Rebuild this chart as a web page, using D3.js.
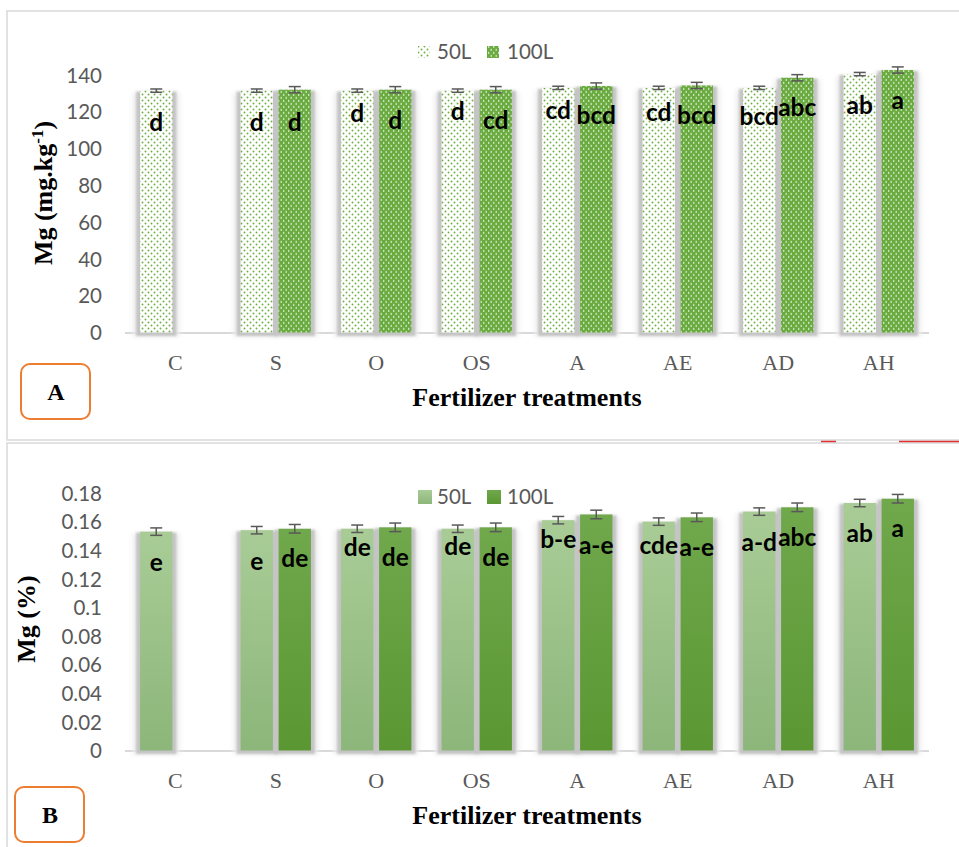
<!DOCTYPE html>
<html>
<head>
<meta charset="utf-8">
<script src="https://cdn.jsdelivr.net/npm/d3@7/dist/d3.min.js"></script>
<style>
  html, body { margin: 0; padding: 0; background: #ffffff; }
  svg { display: block; }
</style>
</head>
<body>
<svg id="chart" width="959" height="847"></svg>
<script>
// ---------------- DATA ----------------
const categories = ["C", "S", "O", "OS", "A", "AE", "AD", "AH"];
const seriesNames = ["50L", "100L"];

// Panel A: Mg (mg.kg-1)
const mgKg50 = [131.5, 131.5, 131.5, 131.5, 133.0, 133.0, 133.0, 140.5];
const mgKg100 = [null, 132.0, 132.0, 132.0, 134.0, 134.3, 138.5, 142.7];
const mgKgErr50 = [0.9, 0.9, 0.9, 0.9, 0.9, 0.9, 0.9, 0.9];
const mgKgErr100 = [0, 1.7, 1.7, 1.7, 1.7, 1.7, 1.7, 1.7];
const mgKgLetters50 = ["d", "d", "d", "d", "cd", "cd", "bcd", "ab"];
const mgKgLetters100 = [null, "d", "d", "cd", "bcd", "bcd", "abc", "a"];
const mgKgTicks = [0, 20, 40, 60, 80, 100, 120, 140];

// Panel B: Mg (%)
const mgPct50 = [0.153, 0.154, 0.155, 0.155, 0.161, 0.160, 0.167, 0.173];
const mgPct100 = [null, 0.155, 0.156, 0.156, 0.165, 0.163, 0.170, 0.176];
const mgPctErr50 = [0.0026, 0.0026, 0.0026, 0.0026, 0.0026, 0.0026, 0.0026, 0.0026];
const mgPctErr100 = [0, 0.003, 0.003, 0.003, 0.003, 0.003, 0.003, 0.003];
const mgPctLetters50 = ["e", "e", "de", "de", "b-e", "cde", "a-d", "ab"];
const mgPctLetters100 = [null, "de", "de", "de", "a-e", "a-e", "abc", "a"];
const mgPctTicks = [0, 0.02, 0.04, 0.06, 0.08, 0.1, 0.12, 0.14, 0.16, 0.18];

// ---------------- LAYOUT / STYLE (not data) ----------------
const labelDropA50 = [32, 32, 23, 21, 23, 25, 29, 31];
const labelDropA100 = [0, 33, 31, 31, 29, 30, 30, 30];
const labelDropB50 = [31, 31, 19, 18, 19, 24, 31, 30];
const labelDropB100 = [0, 30, 30, 30, 31, 30, 30, 30];

const svg = d3.select("#chart");
const defs = svg.append("defs");

// Patterns for panel A
const p50 = defs.append("pattern").attr("id", "pat50").attr("patternUnits", "userSpaceOnUse")
  .attr("width", 6).attr("height", 6);
p50.append("rect").attr("width", 6).attr("height", 6).attr("fill", "#ffffff");
p50.append("circle").attr("cx", 1.5).attr("cy", 1.5).attr("r", 0.95).attr("fill", "#6fb045");
p50.append("circle").attr("cx", 4.5).attr("cy", 4.5).attr("r", 0.95).attr("fill", "#6fb045");

const p100 = defs.append("pattern").attr("id", "pat100").attr("patternUnits", "userSpaceOnUse")
  .attr("width", 5).attr("height", 6);
p100.append("rect").attr("width", 5).attr("height", 6).attr("fill", "#6aab40");
p100.append("rect").attr("x", 0.6).attr("y", 0.8).attr("width", 1.2).attr("height", 2.2).attr("fill", "#ffffff").attr("opacity", 0.7);
p100.append("rect").attr("x", 3.1).attr("y", 3.8).attr("width", 1.2).attr("height", 2.2).attr("fill", "#ffffff").attr("opacity", 0.7);

// Gradients for panel B
function vgrad(id, top, bottom) {
  const g = defs.append("linearGradient").attr("id", id)
    .attr("x1", 0).attr("y1", 0).attr("x2", 0).attr("y2", 1);
  g.append("stop").attr("offset", "0%").attr("stop-color", top);
  g.append("stop").attr("offset", "100%").attr("stop-color", bottom);
}
vgrad("grad50", "#a9cc96", "#8cb67a");
vgrad("grad100", "#70a84c", "#5a9732");

const blur = defs.append("filter").attr("id", "blur").attr("x", "-50%").attr("y", "-10%")
  .attr("width", "200%").attr("height", "120%");
blur.append("feGaussianBlur").attr("stdDeviation", 1.3);
const blur2 = defs.append("filter").attr("id", "blur2").attr("x", "-50%").attr("y", "-10%")
  .attr("width", "200%").attr("height", "120%");
blur2.append("feGaussianBlur").attr("stdDeviation", 2.5);

// Panel frames
svg.append("rect").attr("x", 7).attr("y", 11).attr("width", 990).attr("height", 429)
  .attr("fill", "none").attr("stroke", "#d9d9d9").attr("stroke-width", 1.5);
svg.append("rect").attr("x", 7).attr("y", 443).attr("width", 990).attr("height", 430)
  .attr("fill", "none").attr("stroke", "#d9d9d9").attr("stroke-width", 1.5);
// small red marks between panels
svg.append("line").attr("x1", 821).attr("x2", 836).attr("y1", 441.5).attr("y2", 441.5)
  .attr("stroke", "#e03030").attr("stroke-width", 1.5);
svg.append("line").attr("x1", 899).attr("x2", 959).attr("y1", 441.5).attr("y2", 441.5)
  .attr("stroke", "#e03030").attr("stroke-width", 1.5);

const sansFont = "Lato, 'Open Sans', sans-serif";
const serifFont = "'Liberation Serif', 'Times New Roman', serif";

function drawPanel(cfg) {
  const g = svg.append("g");
  const x0 = d3.scaleBand().domain(categories).range([125, 929])
    .paddingInner(0.3).paddingOuter(0.15);
  const x1 = d3.scaleBand().domain(seriesNames).range([0, x0.bandwidth()])
    .paddingInner(0.15).paddingOuter(0);
  const y = d3.scaleLinear().domain(cfg.domain).range(cfg.range);

  // y tick labels (axis without line/ticks)
  const yAxis = d3.axisLeft(y).tickValues(cfg.ticks).tickSize(0).tickPadding(0)
    .tickFormat(cfg.fmt);
  const ya = g.append("g").attr("transform", "translate(102,0)").call(yAxis);
  ya.select(".domain").remove();
  ya.selectAll("text").attr("font-family", sansFont)
    .attr("font-size", 20.5).attr("fill", "#595959").attr("dy", "0.35em");

  // base line
  g.append("line").attr("x1", 125).attr("x2", 929)
    .attr("y1", y(0) + 0.5).attr("y2", y(0) + 0.5)
    .attr("stroke", "#d9d9d9").attr("stroke-width", 2);

  // category labels
  const xa = d3.axisBottom(x0).tickSize(0).tickPadding(0);
  const xg = g.append("g").attr("transform", `translate(0,${cfg.catY})`).call(xa);
  xg.select(".domain").remove();
  xg.selectAll("text").attr("font-family", serifFont)
    .attr("font-size", 22).attr("fill", "#595959").attr("dy", "0.35em");

  const rows = [];
  categories.forEach((c, i) => {
    [[seriesNames[0], cfg.v50[i], cfg.e50[i], cfg.l50[i], cfg.d50[i]],
     [seriesNames[1], cfg.v100[i], cfg.e100[i], cfg.l100[i], cfg.d100[i]]]
      .forEach(([s, v, e, l, d]) => {
        if (v != null) rows.push({ c, s, v, e, l, d });
      });
  });

  const bw = x1.bandwidth();
  const bx = d => x0(d.c) + x1(d.s);

  // shadows
  g.selectAll(".sh2").data(rows).join("rect")
    .attr("x", d => bx(d) - 7).attr("width", bw + 14)
    .attr("y", d => y(d.v) + 2).attr("height", d => y(0) - y(d.v) + 2)
    .attr("fill", "#ececec").attr("filter", "url(#blur2)");
  g.selectAll(".sh1").data(rows).join("rect")
    .attr("x", d => bx(d) - 4).attr("width", bw + 8)
    .attr("y", d => y(d.v) + 1).attr("height", d => y(0) - y(d.v) + 2.5)
    .attr("fill", "#c4c4c4").attr("filter", "url(#blur)");

  // bars
  g.selectAll(".bar").data(rows).join("rect")
    .attr("x", bx).attr("width", bw)
    .attr("y", d => y(d.v)).attr("height", d => y(0) - y(d.v))
    .attr("fill", d => d.s === "50L" ? cfg.fill50 : cfg.fill100);

  // error bars
  const eb = g.selectAll(".err").data(rows).join("g").attr("stroke", "#595959").attr("stroke-width", 1.5);
  eb.append("line").attr("x1", d => bx(d) + bw / 2).attr("x2", d => bx(d) + bw / 2)
    .attr("y1", d => y(d.v + d.e)).attr("y2", d => y(d.v - d.e));
  eb.append("line").attr("x1", d => bx(d) + bw / 2 - 6).attr("x2", d => bx(d) + bw / 2 + 6)
    .attr("y1", d => y(d.v + d.e)).attr("y2", d => y(d.v + d.e));
  eb.append("line").attr("x1", d => bx(d) + bw / 2 - 6).attr("x2", d => bx(d) + bw / 2 + 6)
    .attr("y1", d => y(d.v - d.e)).attr("y2", d => y(d.v - d.e));

  // letters
  g.selectAll(".lbl").data(rows).join("text")
    .attr("x", d => bx(d) + bw / 2).attr("y", d => y(d.v) + d.d)
    .attr("text-anchor", "middle").attr("dy", "0.35em")
    .attr("font-family", sansFont).attr("font-weight", 700)
    .attr("font-size", 24.5).attr("fill", "#000000")
    .text(d => d.l);

  // legend
  const lg = g.append("g");
  lg.append("rect").attr("x", 418).attr("y", cfg.legY - cfg.sw / 2).attr("width", cfg.sw).attr("height", cfg.sw)
    .attr("fill", cfg.fill50);
  lg.append("text").attr("x", 437).attr("y", cfg.legY).attr("dy", "0.35em")
    .attr("font-family", sansFont).attr("font-size", 20.5).attr("fill", "#595959")
    .text(seriesNames[0]);
  lg.append("rect").attr("x", 487).attr("y", cfg.legY - cfg.sw / 2).attr("width", cfg.sw).attr("height", cfg.sw)
    .attr("fill", cfg.fill100);
  lg.append("text").attr("x", 507).attr("y", cfg.legY).attr("dy", "0.35em")
    .attr("font-family", sansFont).attr("font-size", 20.5).attr("fill", "#595959")
    .text(seriesNames[1]);

  // x title
  g.append("text").attr("x", 527).attr("y", cfg.xTitleY)
    .attr("text-anchor", "middle")
    .attr("font-family", serifFont)
    .attr("font-weight", 700).attr("font-size", 26).attr("fill", "#000")
    .text("Fertilizer treatments");

  // y title
  const yt = g.append("text").attr("transform", `translate(${cfg.yTitleX},${cfg.yTitleY}) rotate(-90)`)
    .attr("text-anchor", "middle")
    .attr("font-family", serifFont)
    .attr("font-weight", 700).attr("font-size", 26).attr("fill", "#000");
  cfg.yTitle(yt);

  // panel letter box
  g.append("rect").attr("x", cfg.box[0]).attr("y", cfg.box[1]).attr("width", 69).attr("height", 55)
    .attr("rx", 9).attr("fill", "#fff").attr("stroke", "#ed7d31").attr("stroke-width", 2);
  g.append("text").attr("x", cfg.box[0] + 35).attr("y", cfg.box[1] + 28).attr("dy", "0.35em")
    .attr("text-anchor", "middle")
    .attr("font-family", serifFont)
    .attr("font-weight", 700).attr("font-size", 24).attr("fill", "#000")
    .text(cfg.letter);
}

drawPanel({
  domain: [0, 140], range: [332.5, 75], ticks: mgKgTicks, fmt: d => String(d),
  v50: mgKg50, v100: mgKg100, e50: mgKgErr50, e100: mgKgErr100,
  l50: mgKgLetters50, l100: mgKgLetters100, d50: labelDropA50, d100: labelDropA100,
  fill50: "url(#pat50)", fill100: "url(#pat100)",
  catY: 362, legY: 52, sw: 12, xTitleY: 406, yTitleX: 52, yTitleY: 193,
  yTitle: t => {
    t.append("tspan").text("Mg (mg.kg");
    t.append("tspan").attr("font-size", 17).attr("dy", "-0.55em").text("-1");
    t.append("tspan").attr("dy", "0.35em").text(")");
  },
  box: [21, 364], letter: "A"
});

drawPanel({
  domain: [0, 0.18], range: [750.5, 493], ticks: mgPctTicks, fmt: d => String(+d.toFixed(2)),
  v50: mgPct50, v100: mgPct100, e50: mgPctErr50, e100: mgPctErr100,
  l50: mgPctLetters50, l100: mgPctLetters100, d50: labelDropB50, d100: labelDropB100,
  fill50: "url(#grad50)", fill100: "url(#grad100)",
  catY: 780, legY: 497, sw: 14, xTitleY: 824, yTitleX: 35, yTitleY: 619,
  yTitle: t => { t.text("Mg (%)"); },
  box: [15, 787], letter: "B"
});
</script>
</body>
</html>
